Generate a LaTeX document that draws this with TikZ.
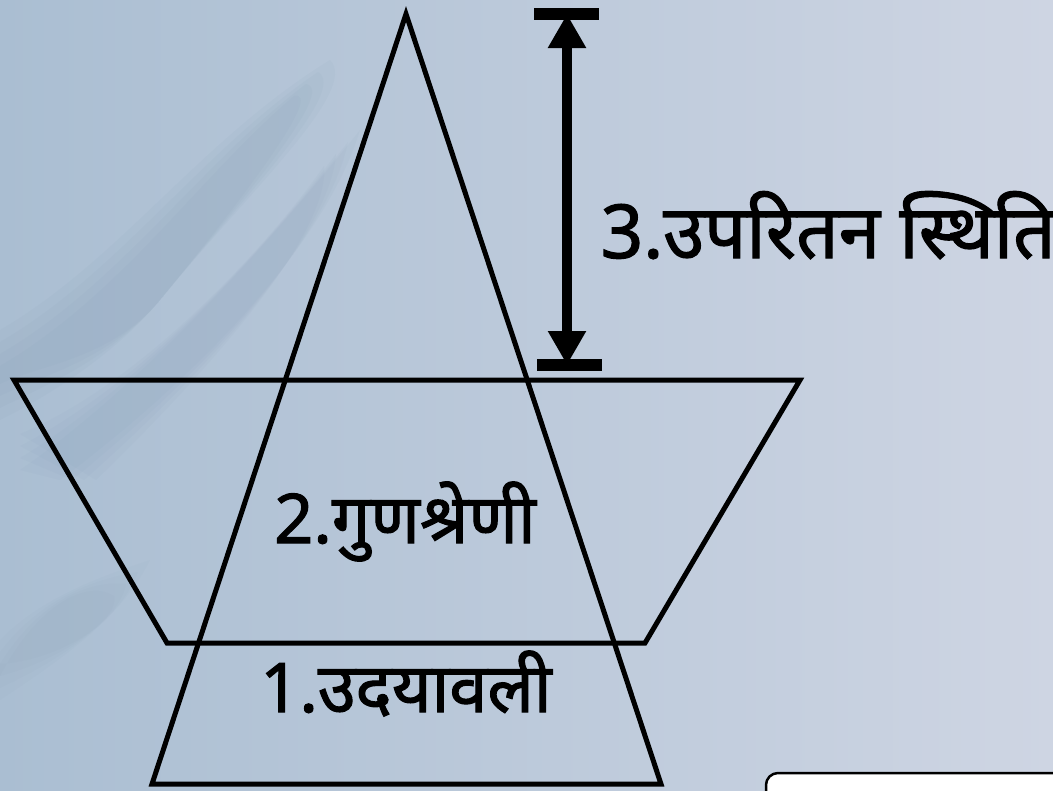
\documentclass[tikz,border=0pt]{standalone}
\usepackage{fontspec}
\newfontfamily\deva[Script=Devanagari,FakeBold=1.6]{Noto Sans}
\usetikzlibrary{arrows.meta,positioning}
\definecolor{bgL}{RGB}{170,190,210}
\definecolor{bgR}{RGB}{206,213,227}
\definecolor{shad}{RGB}{120,148,172}
\tikzset{
  rekha/.style={draw=black,line width=0.5mm,line join=miter},
  lekh/.style={inner sep=0pt,font=\deva\bfseries\fontsize{19.5}{23}\selectfont},
  bada/.style={lekh,font=\deva\bfseries\fontsize{21.2}{25}\selectfont},
  tir/.style={line width=1mm,{Triangle[length=3.4mm,width=3.6mm]}-{Triangle[length=3.4mm,width=3.6mm]}},
  danda/.style={line width=1.2mm},
}
\begin{document}
\begin{tikzpicture}[x=0.1mm,y=-0.1mm]
  \clip (0,0) rectangle (1053,790);
  \shade[left color=bgL,right color=bgR] (0,0) rectangle (1053,790);
  \foreach \d in {0,12,24,36} {
    \fill[shad,opacity=0.06] (0,330+\d) .. controls (120,260+\d) and (200,140+\d) .. (330-\d,60+\d)
      .. controls (360-\d,90) and (250,190) .. (160,300) .. controls (110,360) and (40,400-\d) .. (0,420-\d) -- cycle;
    \fill[shad,opacity=0.05] (20,470-\d) .. controls (150,380) and (280,230) .. (360-\d,130+\d)
      .. controls (330,230) and (220,360) .. (60+\d,480) -- cycle;
    \fill[shad,opacity=0.04] (0,640+\d) .. controls (40,600) and (90,580) .. (150-\d,560+\d)
      .. controls (120,620) and (60,660) .. (0,700-\d) -- cycle;
  }

  \coordinate (shikhar) at (406,14);
  \coordinate (tvam) at (152,784);
  \coordinate (tdak) at (661,784);
  \coordinate (uvam) at (14,380);
  \coordinate (udak) at (800,380);
  \coordinate (ndak) at (645,643);
  \coordinate (nvam) at (167,643);
  \draw[rekha] (shikhar) -- (tdak) -- (tvam) -- cycle;
  \draw[rekha] (uvam) -- (udak) -- (ndak) -- (nvam) -- cycle;

  \coordinate (upar) at (567,14);
  \coordinate (niche) at (567,365);
  \draw[danda] (534,14) -- (599,14);
  \draw[danda] (537,365) -- (602,365);
  \draw[tir] (upar) -- (niche);

  \node[bada,anchor=base west] (sthiti) at (600,258) {3.उपरितन स्थिति};
  \node[lekh,anchor=base] (guna) at (405,543) {2.गुणश्रेणी};
  \node[lekh,anchor=base] (udaya) at (406,712) {1.उदयावली};

  \draw[fill=white,line width=0.25mm,rounded corners=1.2mm] (766,773) rectangle (1090,830);
\end{tikzpicture}
\end{document}
